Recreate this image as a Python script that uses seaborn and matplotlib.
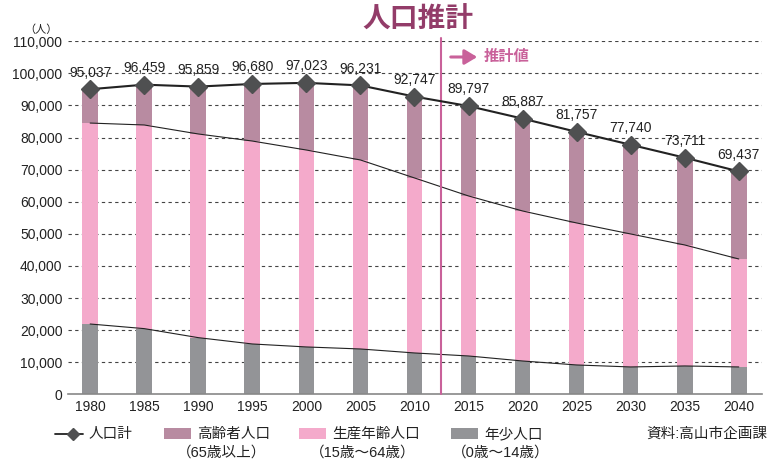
import numpy as np
import pandas as pd
import matplotlib
matplotlib.use("Agg")
import matplotlib.pyplot as plt
import seaborn as sns
from matplotlib.patches import Rectangle, FancyArrowPatch
from matplotlib.lines import Line2D

# ---- data ----
years = ["1980", "1985", "1990", "1995", "2000", "2005", "2010",
         "2015", "2020", "2025", "2030", "2035", "2040"]
total = [95037, 96459, 95859, 96680, 97023, 96231, 92747,
         89797, 85887, 81757, 77740, 73711, 69437]
young = [21900, 20460, 17650, 15680, 14750, 14120, 12880,
         11940, 10380, 9140, 8520, 8830, 8520]
working = [62600, 63440, 63450, 63220, 61350, 58880, 54520,
           49850, 46730, 44240, 41430, 37690, 33640]
elderly = [t - y - w for t, y, w in zip(total, young, working)]

yticks = list(range(0, 110001, 10000))

c_old = "#B88BA1"
c_work = "#F4AACB"
c_young = "#939497"
c_title = "#933C69"
c_est = "#C9619A"

sns.set_theme(style="white")
plt.rcParams["font.family"] = ["Liberation Sans", "Noto Sans CJK JP", "DejaVu Sans"]

fig = plt.figure(figsize=(7.71, 4.62), dpi=100)
ax = fig.add_axes([68 / 771, 1 - 394.3 / 462, (762 - 68) / 771, (394.3 - 41.2) / 462])

df = pd.DataFrame({"year": years, "total": total, "young": young, "working": working})
df["wtop"] = df["young"] + df["working"]

bw = 0.29
for col, c in [("total", c_old), ("wtop", c_work), ("young", c_young)]:
    sns.barplot(data=df, x="year", y=col, color=c, saturation=1, width=bw, ax=ax,
                zorder=2, linewidth=0, edgecolor="none")

pos = np.arange(len(years))
ax.plot(pos, df["wtop"], color="#222222", lw=0.8, zorder=3)
ax.plot(pos, df["young"], color="#222222", lw=0.8, zorder=3)
ax.plot(pos, df["total"], color="#222222", lw=1.5, zorder=4)
ax.plot(pos, df["total"], ls="none", marker="D", ms=9, color="#4F5051", zorder=5)

for i, v in enumerate(total):
    ax.annotate(f"{v:,}", (i, v), xytext=(0, 7), textcoords="offset points",
                ha="center", va="bottom", fontsize=10, color="#222222", zorder=6)

ax.set_xlim(-0.41, 12.43)
ax.set_ylim(0, 110000)
ax.set_yticks(yticks)
ax.set_yticklabels([f"{t:,}" for t in yticks], fontsize=10, color="#222222")
ax.set_xticks(pos)
ax.set_xticklabels(years, fontsize=10, color="#222222")
ax.tick_params(axis="both", length=0, pad=4)
ax.set_xlabel("")
ax.set_ylabel("")
for t in yticks[1:]:
    ax.axhline(t, color="#444444", lw=0.8, ls=(0, (3, 3)), zorder=1)
for s in ["top", "right", "left"]:
    ax.spines[s].set_visible(False)
ax.spines["bottom"].set_color("#888888")
ax.spines["bottom"].set_linewidth(1.2)

# boundary between actual and estimated values
ax.axvline(6.5, ymin=0, ymax=1.01, color=c_est, lw=1.5, zorder=3, clip_on=False)

fig.text(418 / 771, 1 - 21 / 462, "人口推計", ha="center", va="center",
         fontsize=20, fontweight="bold", color=c_title)
fig.add_artist(FancyArrowPatch((448 / 771, 1 - 57 / 462), (480 / 771, 1 - 57 / 462),
                               transform=fig.transFigure, arrowstyle="-|>,head_length=5,head_width=3",
                               color=c_est, lw=2.2, mutation_scale=1.5))
fig.text(484 / 771, 1 - 57 / 462, "推計値", ha="left", va="center",
         fontsize=11, fontweight="bold", color=c_est)
fig.text(58 / 771, 1 - 30 / 462, "（人）", ha="right", va="center", fontsize=8, color="#222222")

# ---- legend ----
ly = 1 - 434 / 462
fig.add_artist(Line2D([55 / 771, 83 / 771], [ly, ly], transform=fig.transFigure,
                      color="#222222", lw=1.3))
fig.add_artist(Line2D([73 / 771], [ly], transform=fig.transFigure, marker="D", ms=6,
                      color="#4F5051", ls="none"))
fig.text(89 / 771, ly, "人口計", ha="left", va="center", fontsize=10.5, color="#222222")

items = [
    (164, c_old, "高齢者人口", 177, "（65歳以上）"),
    (299, c_work, "生産年齢人口", 310, "（15歳〜64歳）"),
    (451, c_young, "年少人口", 452, "（0歳〜14歳）"),
]
for px, col, lab, sx, sub in items:
    fig.add_artist(Rectangle((px / 771, 1 - 439 / 462), 27 / 771, 11 / 462,
                             transform=fig.transFigure, color=col, lw=0))
    fig.text((px + 33) / 771, ly, lab, ha="left", va="center", fontsize=10.5, color="#222222")
    fig.text(sx / 771, 1 - 453 / 462, sub, ha="left", va="center", fontsize=10.5, color="#222222")

fig.text(767 / 771, ly, "資料:高山市企画課", ha="right", va="center", fontsize=10.5, color="#222222")

fig.savefig("out.png", dpi=100)
